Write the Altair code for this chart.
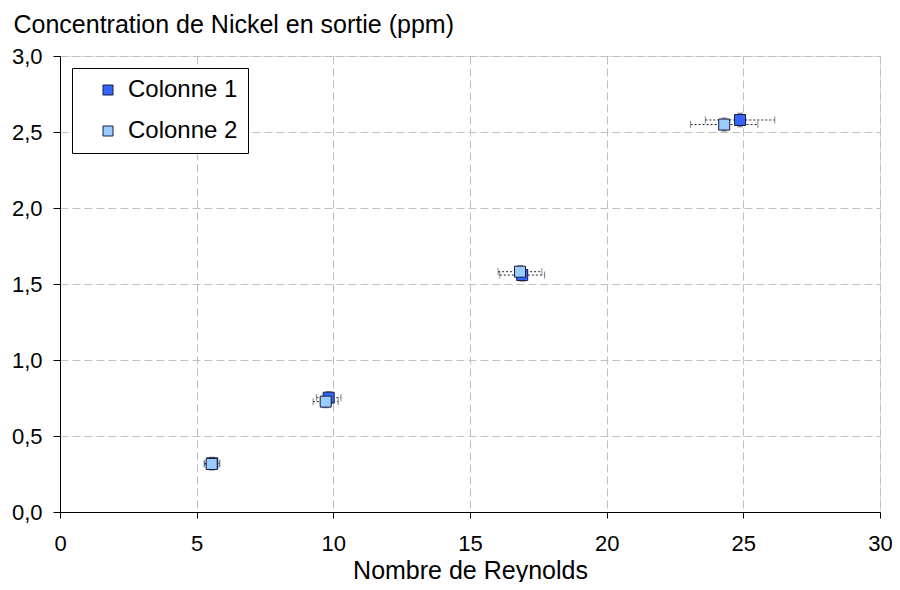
import altair as alt
import pandas as pd

series = ["Colonne 1", "Colonne 2"]
reynolds_1 = [5.57, 9.83, 16.91, 24.88]
nickel_1 = [0.32, 0.752, 1.559, 2.579]
xerr_1 = [0.28, 0.45, 0.82, 1.27]
yerr_1 = [0.04, 0.04, 0.04, 0.045]
reynolds_2 = [5.55, 9.72, 16.83, 24.30]
nickel_2 = [0.316, 0.726, 1.581, 2.549]
xerr_2 = [0.28, 0.46, 0.80, 1.23]
yerr_2 = [0.04, 0.04, 0.04, 0.043]
colors = ["#3366FF", "#99CCFF"]

rows = []
for name, xs, ys, xe, ye in [
    (series[0], reynolds_1, nickel_1, xerr_1, yerr_1),
    (series[1], reynolds_2, nickel_2, xerr_2, yerr_2),
]:
    for x, y, ex, ey in zip(xs, ys, xe, ye):
        rows.append({"serie": name, "x": x, "y": y,
                     "xlo": x - ex, "xhi": x + ex,
                     "ylo": y - ey, "yhi": y + ey})
df = pd.DataFrame(rows)

FONT = "Liberation Sans"

xscale = alt.Scale(domain=[0, 30], nice=False, zero=True)
yscale = alt.Scale(domain=[0, 3], nice=False, zero=True)

xaxis = alt.Axis(values=[0, 5, 10, 15, 20, 25, 30], title="Nombre de Reynolds",
                 titleFontSize=25, titleFont=FONT, titleFontWeight="normal",
                 titleColor="black", titleY=66, titleBaseline="alphabetic",
                 labelFontSize=22, labelFont=FONT, labelColor="black",
                 labelPadding=15, tickSize=6, tickColor="black",
                 domainColor="black", grid=True, gridColor="#c0c0c0",
                 gridDash=[8, 4], labelFlush=False)
yaxis = alt.Axis(values=[0, 0.5, 1, 1.5, 2, 2.5, 3],
                 title="Concentration de Nickel en sortie (ppm)",
                 titleAngle=0, titleAlign="left", titleBaseline="alphabetic",
                 titleX=-47, titleY=-24, titleFontSize=25, titleFont=FONT,
                 titleFontWeight="normal", titleColor="black",
                 labelExpr="replace(format(datum.value, '.1f'), '.', ',')",
                 labelFontSize=22, labelFont=FONT, labelColor="black",
                 labelPadding=11, tickSize=7, tickColor="black",
                 domainColor="black", grid=True, gridColor="#c0c0c0",
                 gridDash=[8, 4], labelFlush=False)

base = alt.Chart(df)

hbar = base.mark_rule(color="#222222", strokeWidth=1, strokeDash=[2, 2]).encode(
    x=alt.X("xlo:Q", scale=xscale, axis=xaxis),
    x2="xhi:Q",
    y=alt.Y("y:Q", scale=yscale, axis=yaxis),
)
hcap_lo = base.mark_tick(orient="vertical", size=7, thickness=1, color="#555555").encode(
    x=alt.X("xlo:Q", scale=xscale), y=alt.Y("y:Q", scale=yscale))
hcap_hi = base.mark_tick(orient="vertical", size=7, thickness=1, color="#555555").encode(
    x=alt.X("xhi:Q", scale=xscale), y=alt.Y("y:Q", scale=yscale))
vbar = base.mark_rule(color="#222222", strokeWidth=1, strokeDash=[2, 2]).encode(
    x=alt.X("x:Q", scale=xscale), y=alt.Y("ylo:Q", scale=yscale), y2="yhi:Q")
vcap_lo = base.mark_tick(orient="horizontal", size=6, thickness=1, color="#555555").encode(
    x=alt.X("x:Q", scale=xscale), y=alt.Y("ylo:Q", scale=yscale))
vcap_hi = base.mark_tick(orient="horizontal", size=6, thickness=1, color="#555555").encode(
    x=alt.X("x:Q", scale=xscale), y=alt.Y("yhi:Q", scale=yscale))

points = base.mark_point(shape="square", filled=True, size=121, opacity=1,
                         stroke="#1a1a40", strokeWidth=1).encode(
    x=alt.X("x:Q", scale=xscale),
    y=alt.Y("y:Q", scale=yscale),
    color=alt.Color("serie:N", scale=alt.Scale(domain=series, range=colors),
                    legend=alt.Legend(title=None, orient="none", legendX=12, legendY=12,
                                      strokeColor="black", fillColor="white",
                                      padding=10, symbolOffset=14,
                                      symbolType="square", symbolSize=100,
                                      symbolStrokeColor="#1a1a40", symbolStrokeWidth=1,
                                      labelFontSize=24, labelFont=FONT, labelColor="black",
                                      labelOffset=8, rowPadding=17)),
    order=alt.Order("serie:N"),
)

chart = alt.layer(hbar, vbar, hcap_lo, hcap_hi, vcap_lo, vcap_hi, points).properties(
    width=820, height=456,
    autosize=alt.AutoSizeParams(type="none"),
    padding={"left": 52, "top": 48, "right": 12, "bottom": 70},
).configure_view(stroke="#808080", strokeWidth=1).configure(background="white")

chart.save("out.html", embed_options={"renderer": "svg", "actions": False})
